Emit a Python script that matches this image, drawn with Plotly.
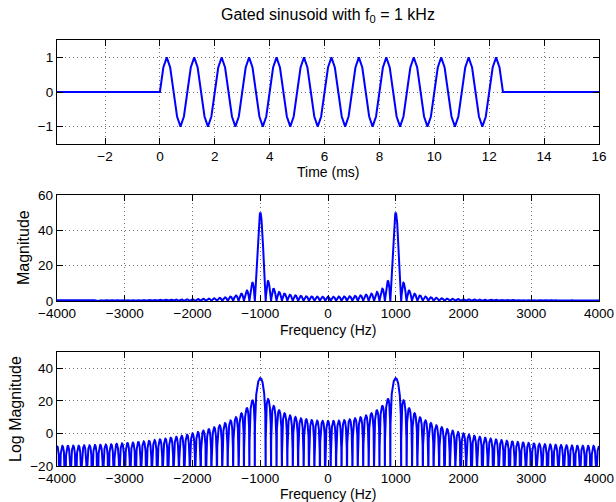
import numpy as np
import plotly.graph_objects as go

# ---- data ----
fs_khz = 8.0                       # samples per ms (8 samples per 1 kHz cycle)
n_before = 30                      # zero samples before the gate (t = -3.75 ms)
n_after = 29                       # zero samples after the gate (up to t = 16 ms)
burst = [
    0, 0.7071, 1, 0.7071, 0, -0.7071, -1, -0.7071,
    0, 0.7071, 1, 0.7071, 0, -0.7071, -1, -0.7071,
    0, 0.7071, 1, 0.7071, 0, -0.7071, -1, -0.7071,
    0, 0.7071, 1, 0.7071, 0, -0.7071, -1, -0.7071,
    0, 0.7071, 1, 0.7071, 0, -0.7071, -1, -0.7071,
    0, 0.7071, 1, 0.7071, 0, -0.7071, -1, -0.7071,
    0, 0.7071, 1, 0.7071, 0, -0.7071, -1, -0.7071,
    0, 0.7071, 1, 0.7071, 0, -0.7071, -1, -0.7071,
    0, 0.7071, 1, 0.7071, 0, -0.7071, -1, -0.7071,
    0, 0.7071, 1, 0.7071, 0, -0.7071, -1, -0.7071,
    0, 0.7071, 1, 0.7071, 0, -0.7071, -1, -0.7071,
    0, 0.7071, 1, 0.7071, 0, -0.7071, -1, -0.7071,
    0, 0.7071, 1, 0.7071,
]
time_ticks = [-2, 0, 2, 4, 6, 8, 10, 12, 14, 16]
freq_ticks = [-4000, -3000, -2000, -1000, 0, 1000, 2000, 3000, 4000]
mag_ticks = [0, 20, 40, 60]
log_ticks = [-20, 0, 20, 40]
sig_ticks = [-1, 0, 1]

# ---- derived series ----
signal = [0.0] * n_before + burst + [0.0] * n_after
t_ms = (np.arange(len(signal)) - n_before) / fs_khz

nfft = 8192
spec = np.fft.fftshift(np.fft.fft(np.array(burst, dtype=float), nfft))
freq = (np.arange(nfft) - nfft // 2) * (fs_khz * 1000.0 / nfft)
mag = np.abs(spec)
logmag = 20 * np.log10(np.maximum(mag, 1e-6))

W, H = 616, 502
FONT = "Liberation Sans, Arial, Helvetica, sans-serif"
BLUE = "#0000ff"
X0, X1 = 57, 599

fig = go.Figure()
fig.add_trace(go.Scatter(x=t_ms, y=signal, mode="lines",
                         line=dict(color=BLUE, width=2), xaxis="x", yaxis="y"))
fig.add_trace(go.Scatter(x=freq, y=mag, mode="lines",
                         line=dict(color=BLUE, width=2), xaxis="x2", yaxis="y2"))
fig.add_trace(go.Scatter(x=freq, y=logmag, mode="lines",
                         line=dict(color=BLUE, width=2), xaxis="x3", yaxis="y3"))

xdom = [X0 / W, X1 / W]
def ydom(top, bot):
    return [(H - bot) / H, (H - top) / H]

common = dict(showline=True, linecolor="black", linewidth=1.3, mirror="allticks",
              ticks="inside", ticklen=6, tickcolor="black", tickwidth=1,
              showgrid=True, gridcolor="rgba(0,0,0,0.55)", gridwidth=1,
              griddash="1px,3px", zeroline=False, automargin=False,
              tickfont=dict(family=FONT, size=13.5, color="black"))

fig.update_layout(
    width=W, height=H, margin=dict(l=0, r=0, t=0, b=0),
    paper_bgcolor="white", plot_bgcolor="white", showlegend=False,
    font=dict(family=FONT, size=13.5, color="black"),
    xaxis=dict(domain=xdom, range=[-3.75, 16], tickvals=time_ticks, anchor="y", **common),
    yaxis=dict(domain=ydom(40, 144), range=[-1.5, 1.5], tickvals=sig_ticks, anchor="x", **common),
    xaxis2=dict(domain=xdom, range=[-4000, 4000], tickvals=freq_ticks, anchor="y2", **common),
    yaxis2=dict(domain=ydom(195, 301), range=[0, 60], tickvals=mag_ticks, anchor="x2", **common),
    xaxis3=dict(domain=xdom, range=[-4000, 4000], tickvals=freq_ticks, anchor="y3", **common),
    yaxis3=dict(domain=ydom(352, 466), range=[-20, 50], tickvals=log_ticks, anchor="x3", **common),
)

def ann(text, x, y, angle=0, size=14):
    fig.add_annotation(text=text, x=x / W, y=(H - y) / H, xref="paper", yref="paper",
                       showarrow=False, textangle=angle, xanchor="center", yanchor="middle",
                       font=dict(family=FONT, size=size, color="black"))

XC = (X0 + X1) / 2
ann("Gated sinusoid with f<sub>0</sub> = 1 kHz", XC, 16, size=16)
ann("Time (ms)", XC, 172)
ann("Frequency (Hz)", XC, 330)
ann("Frequency (Hz)", XC, 494)
ann("Magnitude", 23, 248, angle=-90, size=16)
ann("Log Magnitude", 16, 409, angle=-90, size=16)

fig.write_html("out.html")
